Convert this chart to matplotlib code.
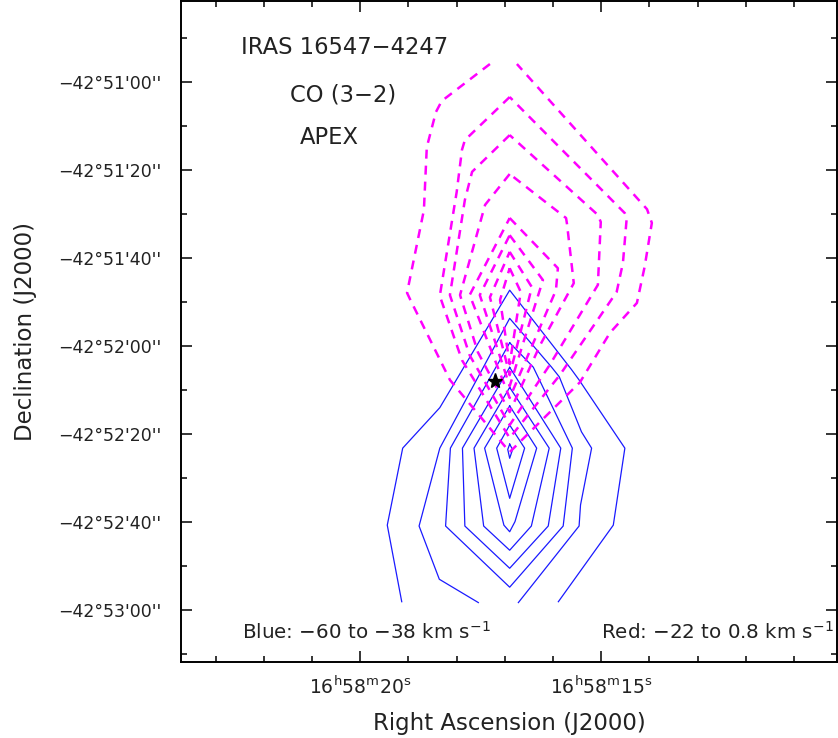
import matplotlib
matplotlib.use("Agg")
import matplotlib.pyplot as plt
from matplotlib.ticker import MultipleLocator, FixedLocator

# x: RA seconds past 16h58m, y: Dec offset (arcsec) from -42d52m00s
blue_contours = [
    # open at the bottom edge of the map
    ([19.14, 19.44, 19.12, 18.35, 16.90, 15.62, 15.46, 14.51, 14.75, 15.89],
     [-58.1, -40.7, -23.2, -14.0, 12.7, -5.3, -7.7, -23.2, -40.7, -58.1]),
    ([17.55, 18.36, 18.78, 18.35, 16.90, 16.03, 15.87, 15.41, 15.20, 15.43, 15.46, 16.72],
     [-58.3, -53.0, -40.9, -23.2, 6.3, -4.8, -7.0, -19.5, -23.2, -36.1, -40.9, -58.3]),
    # closed
    ([16.90, 16.41, 15.60, 15.79, 16.90, 18.23, 18.13, 16.90],
     [0.75, -4.8, -23.2, -40.9, -54.8, -40.9, -23.2, 0.75]),
    ([16.90, 15.84, 16.10, 16.90, 17.83, 17.88, 16.90],
     [-4.84, -23.2, -40.9, -50.5, -40.9, -23.2, -4.84]),
    ([16.90, 16.08, 16.45, 16.90, 17.44, 17.64, 16.90],
     [-9.39, -23.2, -40.9, -46.4, -40.9, -23.2, -9.39]),
    ([16.90, 16.34, 16.79, 16.90, 17.02, 17.42, 16.90],
     [-13.6, -23.2, -39.9, -42.2, -40.7, -23.2, -13.6]),
    ([16.90, 16.59, 16.90, 17.17, 16.90],
     [-17.95, -23.2, -34.6, -23.2, -17.95]),
    ([16.90, 16.84, 16.90, 16.94, 16.90],
     [-22.3, -23.5, -25.5, -23.5, -22.3]),
]

red_contours = [
    # open at the top edge of the map
    ([17.31, 18.31, 18.43, 18.62, 18.68, 19.03, 18.97, 18.14, 16.90, 15.44, 14.82,
      14.26, 14.10, 13.95, 14.05, 16.75],
     [64.1, 55.7, 53.2, 45.2, 30.9, 12.1, 10.7, -7.7, -24.1, -8.2, 3.0,
      9.8, 18.0, 28.0, 31.1, 64.1]),
    # closed
    ([16.90, 17.83, 17.89, 18.00, 18.35, 17.89, 16.90, 15.86, 14.68, 14.55, 14.47, 14.51, 16.90],
     [56.6, 46.8, 44.6, 35.0, 11.4, -3.2, -20.9, -6.6, 12.3, 18.9, 29.3, 30.2, 56.6]),
    ([16.90, 17.68, 17.83, 18.14, 17.73, 16.90, 16.07, 15.07, 15.01, 15.07, 16.90],
     [47.95, 39.6, 33.2, 11.6, -2.1, -17.95, -4.3, 13.9, 28.2, 29.8, 47.95]),
    ([16.90, 17.41, 17.93, 17.56, 16.90, 16.27, 15.57, 15.71, 15.73, 16.90],
     [39.1, 32.1, 11.6, -1.4, -15.0, 0.2, 14.3, 27.7, 29.1, 39.1]),
    ([16.90, 15.90, 15.94, 16.90, 17.73, 16.90],
     [29.1, 17.7, 12.7, -11.8, 11.6, 29.1]),
    ([16.90, 16.21, 16.90, 17.52, 16.90],
     [25.2, 15.0, -9.1, 11.6, 25.2]),
    ([16.90, 16.44, 16.90, 17.31, 16.90],
     [21.4, 13.4, -6.6, 11.1, 21.4]),
    ([16.90, 16.67, 16.90, 17.10, 16.90],
     [17.7, 12.3, -4.1, 10.5, 17.7]),
]

star_ra, star_dec = 17.21, -7.95

ra_ticks = [20, 15]
ra_labels = [r"16$^{\rm h}$58$^{\rm m}$20$^{\rm s}$", r"16$^{\rm h}$58$^{\rm m}$15$^{\rm s}$"]
dec_ticks = [60, 40, 20, 0, -20, -40, -60]
dec_labels = ["\u221242\u00b051'00''", "\u221242\u00b051'20''", "\u221242\u00b051'40''",
              "\u221242\u00b052'00''", "\u221242\u00b052'20''", "\u221242\u00b052'40''",
              "\u221242\u00b053'00''"]

txt = "#222222"

fig = plt.figure(figsize=(8.38, 7.38), dpi=100)
ax = fig.add_axes([0.216, 0.103, 0.7827, 0.8955])

for xs, ys in blue_contours:
    ax.plot(xs, ys, color="#1a1aff", lw=0.9)
for xs, ys in red_contours:
    ax.plot(xs, ys, color="#ff00ff", lw=1.8, linestyle=(0, (3.6, 2.8)))

ax.plot(star_ra, star_dec, marker="*", ms=11, mfc="black", mec="black", ls="none")

ax.set_xlim(23.72, 10.11)
ax.set_ylim(-71.8, 78.4)

ax.xaxis.set_major_locator(FixedLocator(ra_ticks))
ax.set_xticklabels(ra_labels)
ax.xaxis.set_minor_locator(MultipleLocator(1))
ax.yaxis.set_major_locator(FixedLocator(dec_ticks))
ax.set_yticklabels(dec_labels)
ax.yaxis.set_minor_locator(MultipleLocator(10))

ax.tick_params(which="both", direction="in", top=True, right=True, width=1.1,
               labelsize=12.5, colors="black", labelcolor=txt)
ax.tick_params(which="major", length=8, pad=14)
ax.tick_params(axis="x", which="major", labelsize=13.5, pad=10)
ax.tick_params(which="minor", length=4)
for s in ax.spines.values():
    s.set_linewidth(1.4)

ax.set_xlabel("Right Ascension (J2000)", fontsize=16.5, labelpad=10, color=txt)
ax.set_ylabel("Declination (J2000)", fontsize=16.5, labelpad=15, color=txt)

ax.text(0.25, 0.930, "IRAS 16547\u22124247", transform=ax.transAxes, ha="center", va="center", fontsize=16.3, color=txt)
ax.text(0.247, 0.858, "CO (3\u22122)", transform=ax.transAxes, ha="center", va="center", fontsize=16.3, color=txt)
ax.text(0.226, 0.794, "APEX", transform=ax.transAxes, ha="center", va="center", fontsize=16.3, color=txt)
ax.text(0.093, 0.045, "Blue: \u221260 to \u221238 km s$^{-1}$", transform=ax.transAxes, ha="left", va="center", fontsize=14.3, color=txt)
ax.text(0.640, 0.045, "Red: \u221222 to 0.8 km s$^{-1}$", transform=ax.transAxes, ha="left", va="center", fontsize=14.3, color=txt)

fig.savefig("out.png", dpi=100)
